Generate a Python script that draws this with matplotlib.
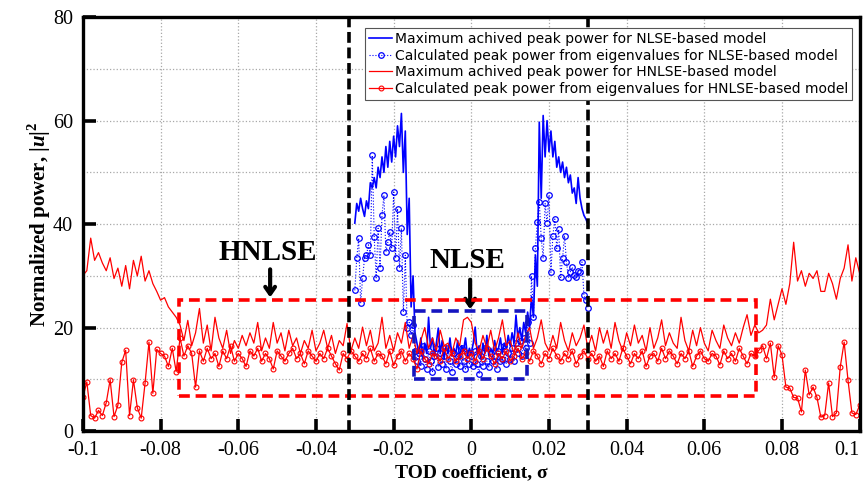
import numpy as np
import matplotlib
matplotlib.use("Agg")
from matplotlib import pyplot
from matplotlib.patches import Rectangle
from matplotlib.ticker import MultipleLocator

# bold italic u in the y label
pyplot.rcParams["mathtext.fontset"] = "custom"
pyplot.rcParams["mathtext.rm"] = "Liberation Serif:bold"
pyplot.rcParams["mathtext.bf"] = "Liberation Serif:bold:italic"

# TOD coefficient grids
sig_h = np.linspace(-0.1, 0.1, 201)
sig_n = np.linspace(-0.03, 0.03, 121)

# HNLSE model: maximum achieved peak power
hnlse_max = [
    30.1, 31.0, 37.3, 33.0, 34.5, 32.5, 31.0, 33.5, 29.5, 31.5,
    28.0, 32.0, 27.5, 33.0, 30.0, 33.8, 29.0, 31.0, 28.5, 27.0,
    25.3, 25.8, 24.0, 23.0, 22.0, 20.5, 17.5, 21.4, 16.5, 19.0,
    23.7, 17.0, 20.5, 15.5, 22.0, 18.0, 16.0, 19.5, 15.0, 17.5,
    16.0, 18.5, 16.5, 19.0, 17.0, 21.0, 15.5, 18.0, 16.0, 21.0,
    17.0, 19.0, 15.5, 19.5, 16.5, 18.0, 15.0, 17.5, 16.0, 19.5,
    15.5, 17.0, 19.5, 16.0, 18.5, 15.0, 17.5, 16.5, 20.8, 15.5,
    18.0, 16.0, 20.1, 16.5, 19.5, 15.5, 17.0, 22.0, 16.0, 18.5,
    15.5, 19.0, 17.0, 21.0, 16.0, 18.5, 15.0, 17.5, 20.0, 16.0,
    18.0, 15.5, 19.5, 16.5, 17.0, 15.0, 18.0, 16.5, 21.5, 22.0,
    21.0,
    17.0, 15.5, 18.5, 16.0, 19.5, 15.5, 18.0, 21.5, 16.5, 17.5,
    15.0, 19.0, 16.0, 18.5, 20.0, 16.0, 18.0, 21.5, 17.0, 15.5,
    18.5, 16.0, 21.0, 17.5, 15.5, 19.0, 16.5, 18.0, 20.5, 16.0,
    18.5, 15.5, 20.0, 17.0, 19.5, 16.0, 21.0, 17.5, 15.5, 19.0,
    16.5, 20.5, 17.0, 18.5, 15.5, 20.0, 16.0, 18.0, 21.5, 16.5,
    19.0, 17.0, 16.0, 22.0, 17.5, 15.5, 19.5, 16.5, 20.0, 17.0,
    15.5, 19.5, 17.5, 16.0, 20.5, 18.0, 16.5, 19.0, 17.0, 20.0,
    22.5, 18.5, 20.5, 19.0, 19.5, 20.5, 25.5, 21.5, 24.5, 27.5,
    24.5, 28.5, 36.5, 29.0, 31.0, 28.0, 30.5, 29.5, 31.0, 27.0,
    27.0, 30.5, 28.5, 25.5, 29.5, 31.5, 36.0, 29.0, 33.5, 30.5,
]

# HNLSE model: peak power from eigenvalues
hnlse_eig = [
    6.6, 9.5, 3.0, 2.5, 4.0, 3.0, 5.5, 9.9, 2.8, 5.0,
    13.3, 15.6, 3.0, 9.9, 4.5, 2.5, 9.3, 17.2, 7.3, 15.8,
    15.0, 14.5, 12.5, 16.0, 11.5, 18.0, 14.5, 16.5, 15.0, 8.5,
    15.5, 13.5, 16.0, 14.0, 15.0, 12.5, 15.5, 14.0, 16.5, 13.5,
    15.0, 14.0, 12.5, 15.5, 14.5, 16.0, 13.5, 15.0, 14.0, 12.0,
    15.5, 14.5, 13.5, 15.0, 16.0, 14.0, 15.0, 13.0, 15.5, 14.5,
    13.5, 15.0, 14.0, 16.0, 14.5, 13.0, 11.8, 15.0, 14.0, 15.5,
    14.5, 13.5, 15.0, 14.0, 16.0, 13.5, 15.0, 14.5, 13.0, 15.5,
    12.7, 14.5, 15.5, 13.5, 15.0, 14.0, 12.0, 15.5, 14.0, 13.0,
    15.0, 14.5, 13.5, 16.0, 14.0, 15.0, 13.5, 14.5, 15.5, 14.0,
    15.0,
    13.5, 15.5, 14.0, 16.0, 14.5, 13.0, 15.0, 14.0, 15.5, 13.5,
    14.5, 16.0, 14.0, 15.0, 13.5, 15.5, 14.5, 13.0, 15.0, 14.0,
    16.0, 14.5, 13.5, 15.0, 14.0, 15.5, 13.0, 14.5, 15.5, 14.0,
    15.0, 13.5, 14.5, 12.5, 15.5, 14.0, 15.0, 13.5, 16.0, 14.5,
    13.0, 15.0, 14.0, 15.5, 12.5, 14.5, 15.0, 13.5, 16.0, 14.0,
    15.5, 14.5, 13.0, 15.0, 14.0, 15.5, 12.5, 14.5, 15.5, 14.0,
    13.5, 15.0, 14.5, 12.8, 15.5, 14.0, 15.0, 13.5, 16.0, 14.5,
    13.0, 15.0, 14.5, 15.6, 16.5, 14.0, 17.0, 10.4, 16.5, 14.7,
    8.5, 8.3, 6.5, 6.4, 3.7, 11.8, 7.0, 8.5, 6.5, 2.7,
    3.0, 9.3, 2.8, 3.5, 12.4, 17.2, 9.8, 3.5, 3.2, 5.0,
]

# NLSE model: maximum achieved peak power
nlse_max = [
    40.2, 44.0, 42.5, 45.0, 43.0, 41.5, 44.5, 43.0, 48.0, 47.0,
    49.0, 47.0, 51.0, 49.0, 53.0, 50.0, 55.0, 51.0, 56.0, 52.0,
    57.0, 53.0, 59.0, 55.0, 61.4, 50.0, 58.0, 38.0, 45.0, 24.0,
    30.0, 19.0, 17.0, 15.0, 18.0, 14.0, 17.0, 15.0, 22.0, 16.0,
    18.0, 14.5, 17.0, 19.9, 15.0, 17.5, 14.0, 16.5, 15.0, 18.0,
    14.5, 16.0, 15.0, 17.5, 14.0, 16.5, 15.5, 18.0, 14.5, 16.0,
    15.0,
    17.0, 20.1, 15.0, 16.5, 14.0, 17.0, 15.0, 18.5, 14.5, 16.0,
    15.0, 17.5, 15.5, 16.0, 18.0, 15.0, 17.0, 16.0, 18.5, 16.5,
    19.0, 17.0, 22.4, 18.0, 20.0, 17.5, 21.0, 19.0, 23.0, 20.0,
    26.0, 22.0, 34.0, 28.0, 59.7, 45.0, 61.0, 53.0, 60.0, 54.0,
    58.0, 53.0, 56.0, 51.0, 53.0, 50.0, 52.0, 49.0, 51.0, 48.0,
    49.5, 46.0, 47.0, 44.0, 49.0, 45.0, 43.0, 41.7, 41.0, 40.0,
]

# NLSE model: peak power from eigenvalues
nlse_eig = [
    27.2, 33.4, 37.3, 24.7, 29.5, 33.4, 34.0, 36.0, 34.0, 53.3,
    37.5, 29.6, 39.2, 31.5, 41.7, 45.6, 34.6, 36.5, 38.5, 35.4,
    46.2, 33.4, 43.0, 31.5, 39.2, 23.0, 34.0, 19.9, 21.0, 18.5,
    20.5, 15.5, 13.5, 15.0, 12.5, 16.5, 14.0, 12.0, 15.5, 13.5,
    11.5, 14.5, 16.0, 12.4, 15.0, 13.0, 14.5, 12.0, 16.0, 13.5,
    11.5, 15.0, 13.0, 14.5, 12.5, 16.0, 13.5, 12.0, 15.0, 13.0,
    14.5,
    12.5, 15.5, 13.0, 11.0, 14.5, 12.5, 16.0, 13.5, 12.4, 15.0,
    13.5, 14.5, 12.0, 15.5, 13.5, 14.0, 16.5, 13.0, 15.0, 14.0,
    16.0, 13.5, 17.0, 15.0, 17.5, 14.5, 18.0, 16.0, 21.0, 17.0,
    30.0, 22.0, 35.4, 40.4, 44.3, 37.3, 33.4, 44.0, 40.3, 45.6,
    30.7, 37.8, 41.0, 35.3, 39.0, 29.7, 33.4, 37.8, 32.7, 29.6,
    30.8, 31.7, 30.1, 29.7, 31.0, 30.8, 32.7, 26.3, 25.3, 23.8,
]

labels = ["Maximum achived peak power for NLSE-based model",
          "Calculated peak power from eigenvalues for NLSE-based model",
          "Maximum achived peak power for HNLSE-based model",
          "Calculated peak power from eigenvalues for HNLSE-based model"]

serif = ["Liberation Serif", "DejaVu Serif"]

fig = pyplot.figure(figsize=(8.64, 4.91), dpi=100)
ax = fig.add_axes([0.096, 0.122, 0.899, 0.843])

ax.plot(sig_n, nlse_max, color="#0000ff", lw=1.2, label=labels[0])
ax.plot(sig_n, nlse_eig, color="#0000ff", lw=0.8, ls=":", marker="o",
        ms=4, mfc="none", mew=0.9, label=labels[1])
ax.plot(sig_h, hnlse_max, color="#ff0000", lw=0.9, label=labels[2])
ax.plot(sig_h, hnlse_eig, color="#ff0000", lw=0.9, marker="o",
        ms=3.5, mfc="none", mew=0.8, label=labels[3])

# boxes around the stable regions
ax.add_patch(Rectangle((-0.0753, 6.8), 0.1485, 18.5, fill=False,
                       ec="#ff0000", lw=2.6, ls=(0, (3, 1.6)), zorder=5))
ax.add_patch(Rectangle((-0.0147, 10.0), 0.0291, 13.2, fill=False,
                       ec="#1515c0", lw=2.6, ls=(0, (3, 1.6)), zorder=5))

# limits of the NLSE-based computation
for xv in (-0.0315, 0.030):
    ax.axvline(xv, color="black", lw=2.6, ls=(0, (3, 1.3)), zorder=6)

ax.text(-0.0525, 34.6, "HNLSE", fontsize=21, fontweight="bold",
        family=serif, ha="center", va="center")
ax.annotate("", xy=(-0.0518, 25.3), xytext=(-0.0518, 31.8),
            arrowprops=dict(arrowstyle="->,head_length=0.5,head_width=0.35",
                            lw=3, color="black"))
ax.text(-0.001, 32.9, "NLSE", fontsize=21, fontweight="bold",
        family=serif, ha="center", va="center")
ax.annotate("", xy=(-0.0003, 23.0), xytext=(-0.0003, 29.8),
            arrowprops=dict(arrowstyle="->,head_length=0.5,head_width=0.35",
                            lw=3, color="black"))

ax.set_xlim(-0.1, 0.1)
ax.set_ylim(0, 80)
ax.yaxis.set_major_locator(MultipleLocator(20))
ax.yaxis.set_minor_locator(MultipleLocator(10))
xt = np.arange(-0.1, 0.1001, 0.02)
ax.set_xticks(xt)
ax.set_xticklabels(["%g" % round(v, 2) if abs(v) > 1e-9 else "0" for v in xt])
ax.grid(True, which="both", ls=":", color="#a8a8a8", lw=0.9)
ax.tick_params(which="major", direction="in", length=9, width=2.6,
               labelsize=14.5, pad=7)
ax.tick_params(which="minor", direction="in", length=0)
for lab in ax.get_xticklabels() + ax.get_yticklabels():
    lab.set_family(serif)
# keep the last x label inside the figure
ax.get_xticklabels()[-1].set_ha("right")
for s in ax.spines.values():
    s.set_linewidth(2.4)

ax.set_xlabel("TOD coefficient, σ", fontsize=14, fontweight="bold",
              family=serif, labelpad=3)
ax.set_ylabel(r"Normalized power, $|\mathbf{u}|^{2}$", fontsize=15,
              fontweight="bold", family=serif, labelpad=0)

leg = ax.legend(loc="upper right", bbox_to_anchor=(0.999, 0.99),
                prop={"family": "DejaVu Sans", "size": 10},
                handlelength=1.7, handletextpad=0.2, labelspacing=0.2,
                borderpad=0.25, numpoints=1, fancybox=False, framealpha=1,
                edgecolor="#555555")
leg.get_frame().set_linewidth(0.8)
leg.set_zorder(10)

pyplot.savefig("out.png", dpi=100)
